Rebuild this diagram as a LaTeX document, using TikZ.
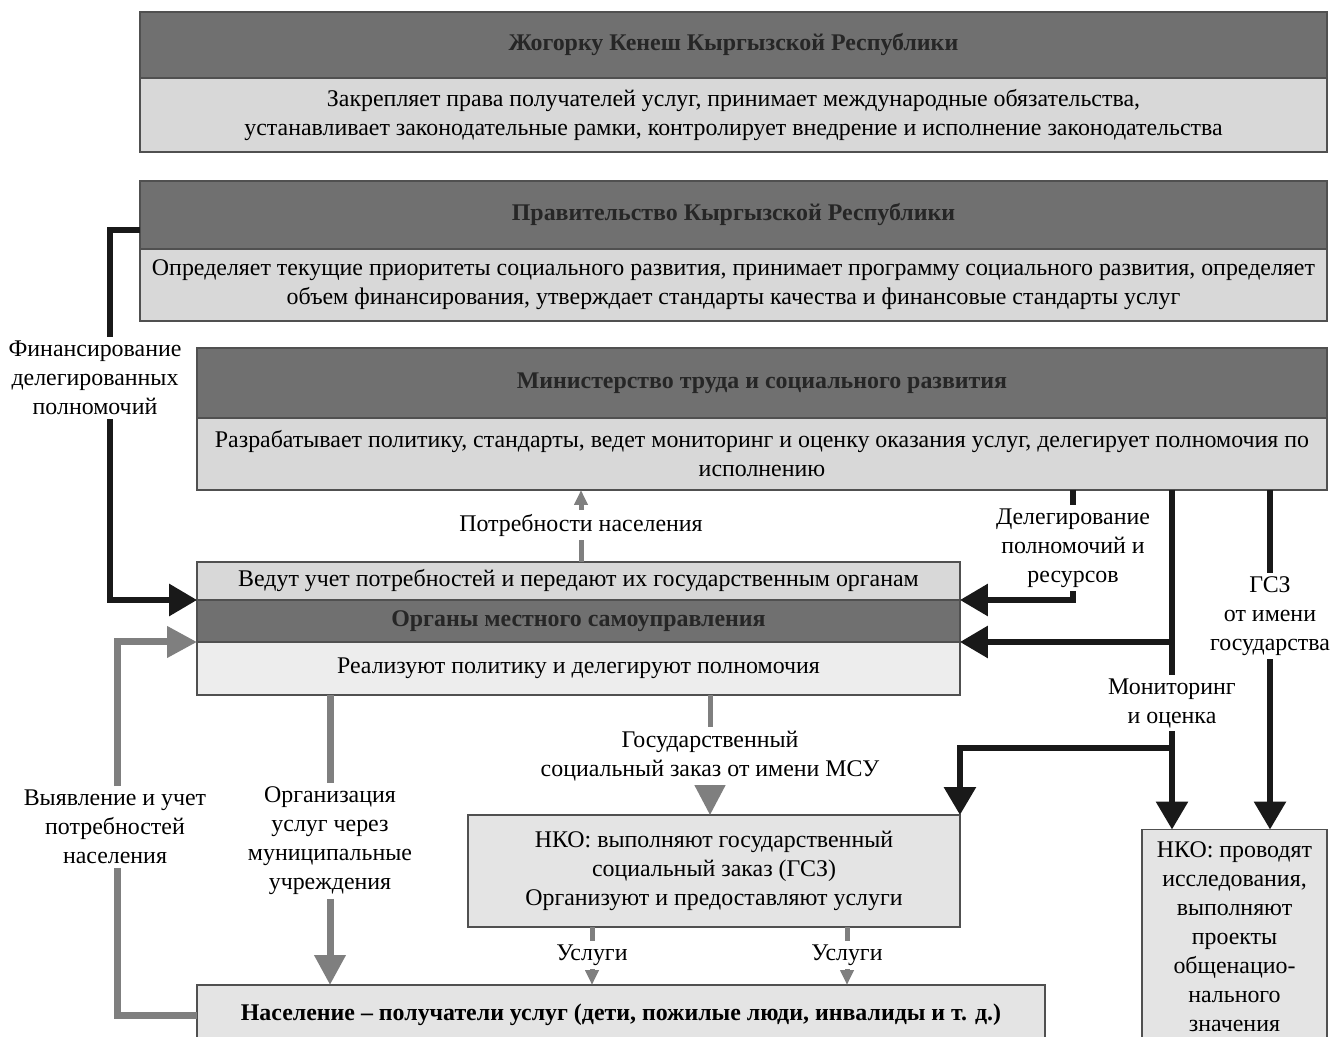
\documentclass[tikz,border=0pt]{standalone}
\usepackage{fontspec}
\setmainfont{Liberation Serif}
\usetikzlibrary{positioning,arrows.meta}
\definecolor{headfill}{HTML}{707070}
\definecolor{bodyfill}{HTML}{D8D8D8}
\definecolor{palefill}{HTML}{EDEDED}
\definecolor{nkofill}{HTML}{E4E4E4}
\definecolor{boxline}{HTML}{505050}
\definecolor{arrgray}{HTML}{7F7F7F}
\newcommand{\txtsize}{\fontsize{13.6}{16.5}\selectfont}
\tikzset{
  head/.style={draw=boxline,line width=0.8pt,fill=headfill,font=\txtsize\bfseries,text=black!85,inner sep=0pt,outer sep=0pt,align=center},
  body/.style={draw=boxline,line width=0.8pt,fill=bodyfill,inner sep=0pt,outer sep=0pt,align=center},
  lbl/.style={align=center,inner sep=2pt},
  blk/.style={line width=0.12cm,black!90},
  blkarr/.style={blk,-{Triangle[length=0.56cm,width=0.62cm]}},
  gry/.style={line width=0.14cm,arrgray},
  gryarr/.style={gry,-{Triangle[length=0.6cm,width=0.6cm]}},
  thn/.style={line width=0.1cm,arrgray},
  thnarr/.style={thn,-{Triangle[length=0.3cm,width=0.26cm]}},
}
\begin{document}
\begin{tikzpicture}[x=0.02cm,y=-0.02cm,font=\txtsize]
\useasboundingbox (0,0) rectangle (1333,1037);
% state bodies
\node[head,minimum width=23.74cm,minimum height=1.32cm] (kenh) at (733.5,45) {Жогорку Кенеш Кыргызской Республики};
\node[body,minimum width=23.74cm,minimum height=1.48cm,below=0pt of kenh] (kenb) {Закрепляет права получателей услуг, принимает международные обязательства,\\устанавливает законодательные рамки, контролирует внедрение и исполнение законодательства};
\node[head,minimum width=23.74cm,minimum height=1.36cm] (govh) at (733.5,215) {Правительство Кыргызской Республики};
\node[body,minimum width=23.74cm,minimum height=1.44cm,below=0pt of govh] (govb) {Определяет текущие приоритеты социального развития, принимает программу социального развития, определяет\\объем финансирования, утверждает стандарты качества и финансовые стандарты услуг};
\node[head,minimum width=22.6cm,minimum height=1.4cm] (minh) at (762,383) {Министерство труда и социального развития};
\node[body,minimum width=22.6cm,minimum height=1.44cm,below=0pt of minh] (minb) {Разрабатывает политику, стандарты, ведет мониторинг и оценку оказания услуг, делегирует полномочия по\\исполнению};
% local level
\node[body,minimum width=15.26cm,minimum height=0.76cm] (mestt) at (578.5,581) {Ведут учет потребностей и передают их государственным органам};
\node[head,minimum width=15.26cm,minimum height=0.84cm,below=0pt of mestt] (mestn) {Органы местного самоуправления};
\node[body,fill=palefill,minimum width=15.26cm,minimum height=1.06cm,below=0pt of mestn] (mestb) {Реализуют политику и делегируют полномочия};
\node[body,fill=nkofill,minimum width=9.84cm,minimum height=2.24cm] (nko) at (714,871) {НКО: выполняют государственный\\социальный заказ (ГСЗ)\\Организуют и предоставляют услуги};
\node[body,fill=nkofill,font=\txtsize\bfseries,minimum width=16.96cm,minimum height=1.2cm] (pop) at (621,1015) {Население – получатели услуг (дети, пожилые люди, инвалиды и т. д.)};
\node[body,fill=nkofill,minimum width=3.7cm,minimum height=4.3cm] (nkor) at (1234.5,937) {НКО: проводят\\исследования,\\выполняют\\проекты\\общенацио-\\нального\\значения};
% labels
\node[lbl] (fin) at (95,378) {Финансирование\\делегированных\\полномочий};
\node[lbl] (need) at (115,827) {Выявление и учет\\потребностей\\населения};
\node[lbl] (org) at (330,841) {Организация\\услуг через\\муниципальные\\учреждения};
\node[lbl] (pot) at (581,525) {Потребности населения};
\node[lbl] (gos) at (710,756) {Государственный\\социальный заказ от имени МСУ};
\node[lbl] (usl1) at (592,955) {Услуги};
\node[lbl] (usl2) at (847,955) {Услуги};
\node[lbl] (del) at (1073,548) {Делегирование\\полномочий и\\ресурсов};
\node[lbl] (mon) at (1172,703) {Мониторинг\\и оценка};
\node[lbl] (gsz) at (1270,616) {ГСЗ\\от имени\\государства};
\coordinate (finA) at (110,230);
\coordinate (needX) at (117,1012);
\coordinate (monC) at (1172,748);
% left side
\draw[blk] (govh.west |- finA) -- (finA) -- (fin.north -| finA);
\draw[blkarr] (fin.south -| finA) |- (mestn.north west);
\draw[gry] (pop.west) -| (need.south -| needX);
\draw[gryarr] (need.north -| needX) |- (mestn.south west);
% middle
\draw[thn] (mestt.north -| pot) -- (pot.south);
\draw[thnarr] (pot.north) -- (minb.south -| pot);
\draw[gry] (mestb.south -| org) -- (org.north);
\draw[gryarr] (org.south) -- (pop.north -| org);
\draw[thn] (mestb.south -| gos) -- (gos.north);
\draw[thn,-{Triangle[length=0.6cm,width=0.6cm]}] (gos.south) -- (nko.north -| gos);
\draw[thn] (nko.south -| usl1) -- (usl1.north);
\draw[thnarr] (usl1.south) -- (pop.north -| usl1);
\draw[thn] (nko.south -| usl2) -- (usl2.north);
\draw[thnarr] (usl2.south) -- (pop.north -| usl2);
% right side
\draw[blk] (minb.south -| del) -- (del.north);
\draw[blkarr] (del.south) |- (mestn.north east);
\draw[blk] (minb.south -| mon) -- (mon.north);
\draw[blkarr] (mestn.south east -| mon) -- (mestn.south east);
\draw[blk] (mon.south) -- (monC);
\draw[blkarr] (monC) -| (nko.north east);
\draw[blkarr] (monC) -- (nkor.north -| monC);
\draw[blk] (minb.south -| gsz) -- (gsz.north);
\draw[blkarr] (gsz.south) -- (nkor.north -| gsz);
\end{tikzpicture}
\end{document}
